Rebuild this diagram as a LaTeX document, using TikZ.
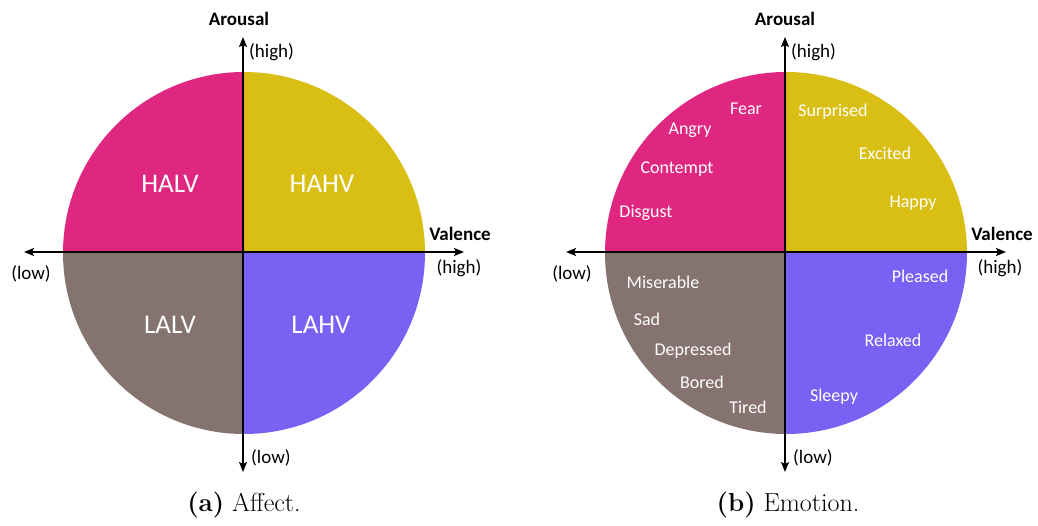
\documentclass[tikz,border=0pt]{standalone}
\usepackage{fontspec}
\newfontfamily\carl{Carlito}
\usetikzlibrary{arrows.meta}
\definecolor{qpink}{RGB}{223,38,128}
\definecolor{qgold}{RGB}{217,191,19}
\definecolor{qbrown}{RGB}{133,115,112}
\definecolor{qpurple}{RGB}{123,97,243}
\tikzset{
  axisline/.style={line width=1.6pt,-{Stealth[length=10pt,width=8pt,inset=2pt]}},
  axlabel/.style={font=\carl\bfseries\fontsize{19}{22}\selectfont,inner sep=0pt},
  endlabel/.style={font=\carl\fontsize{19}{22}\selectfont,inner sep=0pt},
  quad/.style={font=\carl\fontsize{27}{30}\selectfont,text=white,inner sep=0pt},
  emo/.style={font=\carl\fontsize{18}{21}\selectfont,text=white,inner sep=0pt},
  capt/.style={font=\fontsize{26}{30}\selectfont,inner sep=0pt}
}
\begin{document}
\begin{tikzpicture}[x=1pt,y=-1pt]
\useasboundingbox (0,0) rectangle (1038,525);
% ---------- left diagram ----------
\fill[qgold]   (244,253) -- (425,253) arc[start angle=0,end angle=-90,radius=181] -- cycle;
\fill[qpink]   (244,253) -- (244,72) arc[start angle=-90,end angle=-180,radius=181] -- cycle;
\fill[qbrown]  (244,253) -- (63,253) arc[start angle=180,end angle=90,radius=181] -- cycle;
\fill[qpurple] (244,253) -- (244,434) arc[start angle=90,end angle=0,radius=181] -- cycle;
\coordinate (Lt) at (243,37);
\coordinate (Lb) at (243,472);
\coordinate (Ll) at (24,252);
\coordinate (Lr) at (464,252);
\draw[axisline] (243,253) -- (Lt);
\draw[axisline] (243,253) -- (Lb);
\draw[axisline] (243,252) -- (Ll);
\draw[axisline] (243,252) -- (Lr);
\node[axlabel] (LA) at (239,19) {Arousal};
\node[endlabel,anchor=west] (Lhi) at (249,52) {(high)};
\node[axlabel] (LV) at (460,234) {Valence};
\node[endlabel] (Lhi2) at (459,268) {(high)};
\node[endlabel] (Llo) at (31,274) {(low)};
\node[endlabel,anchor=west] (Llo2) at (251,458) {(low)};
\node[quad] (HALV) at (170,184) {HALV};
\node[quad] (HAHV) at (322,184) {HAHV};
\node[quad] (LALV) at (170,325) {LALV};
\node[quad] (LAHV) at (321,325) {LAHV};
\node[capt] (capa) at (244,505) {\textbf{(a)} Affect.};
% ---------- right diagram ----------
\fill[qgold]   (786,253) -- (967,253) arc[start angle=0,end angle=-90,radius=181] -- cycle;
\fill[qpink]   (786,253) -- (786,72) arc[start angle=-90,end angle=-180,radius=181] -- cycle;
\fill[qbrown]  (786,253) -- (605,253) arc[start angle=180,end angle=90,radius=181] -- cycle;
\fill[qpurple] (786,253) -- (786,434) arc[start angle=90,end angle=0,radius=181] -- cycle;
\coordinate (Rt) at (785,37);
\coordinate (Rb) at (785,472);
\coordinate (Rl) at (566,252);
\coordinate (Rr) at (1006,252);
\draw[axisline] (785,253) -- (Rt);
\draw[axisline] (785,253) -- (Rb);
\draw[axisline] (785,252) -- (Rl);
\draw[axisline] (785,252) -- (Rr);
\node[axlabel] (RA) at (785,19) {Arousal};
\node[endlabel,anchor=west] (Rhi) at (791,52) {(high)};
\node[axlabel] (RV) at (1002,234) {Valence};
\node[endlabel] (Rhi2) at (1000,268) {(high)};
\node[endlabel] (Rlo) at (572,274) {(low)};
\node[endlabel,anchor=west] (Rlo2) at (793,458) {(low)};
\node[emo] (fear) at (746,109) {Fear};
\node[emo] (angry) at (690,130) {Angry};
\node[emo] (contempt) at (677,169) {Contempt};
\node[emo] (disgust) at (646,213) {Disgust};
\node[emo] (surprised) at (833,112) {Surprised};
\node[emo] (excited) at (885,153) {Excited};
\node[emo] (happy) at (913,203) {Happy};
\node[emo] (miserable) at (663,282) {Miserable};
\node[emo] (sad) at (647,319) {Sad};
\node[emo] (depressed) at (693,351) {Depressed};
\node[emo] (bored) at (702,382) {Bored};
\node[emo] (tired) at (748,407) {Tired};
\node[emo] (pleased) at (920,276) {Pleased};
\node[emo] (relaxed) at (893,340) {Relaxed};
\node[emo] (sleepy) at (834,397) {Sleepy};
\node[capt] (capb) at (788,505) {\textbf{(b)} Emotion.};
\end{tikzpicture}
\end{document}
